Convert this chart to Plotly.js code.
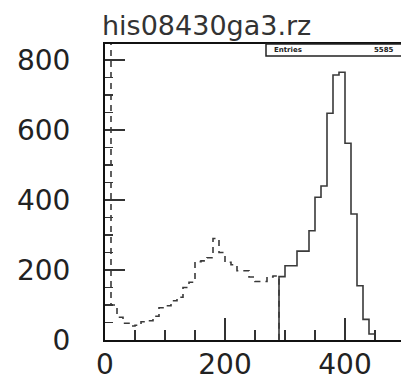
<!DOCTYPE html>
<html>
<head>
<meta charset="utf-8">
<script src="https://cdn.plot.ly/plotly-3.0.1.min.js"></script>
<style>html,body{margin:0;padding:0;background:#fff;}#chart{width:401px;height:384px;}</style>
</head>
<body>
<div id="chart"></div>
<script>
// Dashed histogram: bins of width 10 starting at 0 (first bin off-scale)
const dashedEdges = [0,10,20,30,40,50,60,70,80,90,100,110,120,130,140,150,160,170,180,190,200,210,220,230,240,250,260,270,280,290];
const dashedCounts = [1000,100,65,48,40,42,52,55,68,92,98,112,122,150,165,224,226,235,290,250,222,215,198,198,180,167,167,180,183];
// Solid histogram: bins of width 10 starting at 290
const solidEdges = [290,300,310,320,330,340,350,360,370,380,390,400,410,420,430,440,450];
const solidCounts = [181,212,212,254,254,312,408,440,648,757,765,562,360,155,59,17];
const titleText = "his08430ga3.rz";
const statsLabel = "Entries";
const statsValue = "5585";
const xTickVals = [0,200,400];
const yTickVals = [0,200,400,600,800];

// build step traces
const dx = dashedEdges.slice();
const dy = dashedCounts.concat([0]);
const sx = [solidEdges[0]].concat(solidEdges);
const sy = [0].concat(solidCounts).concat([0]);

const lineColor = '#3a3a3a';
const traces = [
  {x: dx, y: dy, mode: 'lines', line: {shape: 'hv', color: lineColor, width: 1.6, dash: '6px,5px'}, hoverinfo: 'skip'},
  {x: sx, y: sy, mode: 'lines', line: {shape: 'hv', color: lineColor, width: 1.6}, hoverinfo: 'skip'}
];

const fnt = {family: 'DejaVu Sans', size: 28, color: '#222'};
const layout = {
  width: 401, height: 384,
  margin: {l: 105, r: 0, t: 44, b: 44, pad: 0},
  paper_bgcolor: '#fff', plot_bgcolor: '#fff',
  showlegend: false,
  title: {text: titleText, font: {family: 'DejaVu Sans', size: 27, color: '#333'}, x: 102/401, xanchor: 'left', xref: 'container', y: 1 - 26/384, yanchor: 'middle', yref: 'container'},
  xaxis: {
    range: [0, 296/0.6], showgrid: false, zeroline: false,
    showline: true, linecolor: '#111', linewidth: 2, mirror: true,
    tickmode: 'array', tickvals: xTickVals, ticktext: xTickVals.map(String),
    ticks: 'inside', ticklen: 22, tickwidth: 1.5, tickcolor: '#333',
    minor: {dtick: 50, tick0: 0, ticks: 'inside', ticklen: 10, tickwidth: 1.5, tickcolor: '#333', showgrid: false},
    tickfont: fnt, ticklabelstandoff: -2
  },
  yaxis: {
    range: [0, 296/0.35], showgrid: false, zeroline: false,
    showline: true, linecolor: '#111', linewidth: 2, mirror: false,
    tickmode: 'array', tickvals: yTickVals, ticktext: yTickVals.map(String),
    ticks: 'inside', ticklen: 20, tickwidth: 1.5, tickcolor: '#333',
    minor: {dtick: 50, tick0: 0, ticks: 'inside', ticklen: 8, tickwidth: 1.5, tickcolor: '#333', showgrid: false},
    tickfont: fnt, ticklabelstandoff: 27
  },
  shapes: [
    {type: 'rect', xref: 'paper', yref: 'paper', x0: (266-105)/296, x1: 1.02, y0: (340-56)/296, y1: 1, line: {color: '#222', width: 1.5}, fillcolor: '#fff'}
  ],
  annotations: [
    {text: '<b>' + statsLabel + '</b>', xref: 'paper', yref: 'paper', x: (272-105)/296, y: (340-50)/296, xanchor: 'left', yanchor: 'middle', showarrow: false, font: {family: 'DejaVu Sans', size: 7, color: '#222'}},
    {text: '<b>' + statsValue + '</b>', xref: 'paper', yref: 'paper', x: (396-105)/296, y: (340-50)/296, xanchor: 'right', yanchor: 'middle', showarrow: false, font: {family: 'DejaVu Sans', size: 7, color: '#222'}}
  ]
};

Plotly.newPlot('chart', traces, layout, {staticPlot: true, displayModeBar: false});
</script>
</body>
</html>
